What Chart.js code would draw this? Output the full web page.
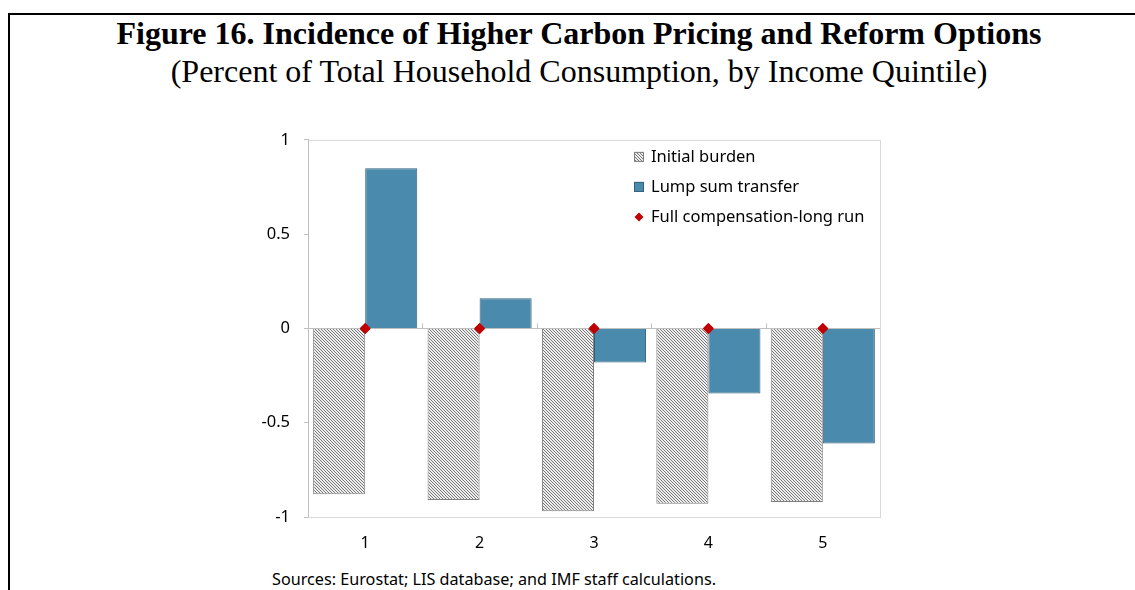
<!DOCTYPE html>
<html>
<head>
<meta charset="utf-8">
<script src="https://cdn.jsdelivr.net/npm/chart.js@4"></script>
<style>
  body { margin: 0; background: #fff; }
  #wrap { position: relative; width: 1135px; height: 590px; overflow: hidden; }
  #frame { position: absolute; left: 8px; top: 13px; width: 1140px; height: 600px;
           border-top: 2px solid #000; border-left: 2px solid #000; }
  .title { position: absolute; left: 0; width: 1158px; text-align: center; white-space: nowrap;
           font-family: "Liberation Serif", "Times New Roman", serif; color: #000; }
  #t1 { top: 15px; font-size: 32px; font-weight: bold; }
  #t2 { top: 53px; font-size: 32px; }
  #source { position: absolute; left: 272px; top: 568px; font-family: "Noto Sans", sans-serif;
            font-size: 16.2px; color: #000; }
  #chartBox { position: absolute; left: 0; top: 116px; width: 1135px; height: 444px; }
</style>
</head>
<body>
<div id="wrap">
  <div id="frame"></div>
  <div class="title" id="t1">Figure 16. Incidence of Higher Carbon Pricing and Reform Options</div>
  <div class="title" id="t2">(Percent of Total Household Consumption, by Income Quintile)</div>
  <div id="chartBox"><canvas id="chart"></canvas></div>
  <div id="source">Sources: Eurostat; LIS database; and IMF staff calculations.</div>
</div>
<script>
const quintiles = ['1', '2', '3', '4', '5'];
const initialBurden = [-0.88, -0.91, -0.97, -0.93, -0.92];
const lumpSumTransfer = [0.85, 0.16, -0.18, -0.345, -0.61];
const fullCompensation = [0, 0, 0, 0, 0];
const yTicks = [-1, -0.5, 0, 0.5, 1];

// Motif hachuré pour "Initial burden"
function makeHatch() {
  const c = document.createElement('canvas');
  c.width = 3; c.height = 3;
  const g = c.getContext('2d');
  g.fillStyle = '#ededed';
  g.fillRect(0, 0, 3, 3);
  g.fillStyle = '#7a7a7a';
  for (let i = 0; i < 3; i++) g.fillRect(i, i, 1, 1);
  return g.createPattern(c, 'repeat');
}
const hatch = makeHatch();
const blue = '#4a8bad';
const red = '#c00000';

// Cadre, axe du zéro et petites graduations
const framePlugin = {
  id: 'framePlugin',
  beforeDatasetsDraw(chart) {
    const { ctx, chartArea: a } = chart;
    ctx.save();
    ctx.strokeStyle = '#d9d9d9';
    ctx.lineWidth = 1;
    ctx.strokeRect(a.left + 0.5, a.top + 0.5, a.right - a.left, a.bottom - a.top);
    ctx.restore();
  },
  afterDatasetsDraw(chart) {
    const { ctx, chartArea: a, scales: { y } } = chart;
    const y0 = Math.round(y.getPixelForValue(0)) + 0.5;
    ctx.save();
    ctx.strokeStyle = '#bfbfbf';
    ctx.lineWidth = 1;
    ctx.beginPath();
    ctx.moveTo(a.left, y0);
    ctx.lineTo(a.right, y0);
    const step = (a.right - a.left) / quintiles.length;
    for (let i = 1; i < quintiles.length; i++) {
      const px = Math.round(a.left + i * step) + 0.5;
      ctx.moveTo(px, y0);
      ctx.lineTo(px, y0 - 5);
    }
    ctx.moveTo(a.left + 0.5, a.top);
    ctx.lineTo(a.left + 0.5, a.bottom);
    ctx.stroke();
    ctx.restore();
    // redessiner les losanges par-dessus l'axe
    const meta = chart.getDatasetMeta(2);
    meta.data.forEach(p => p.draw(ctx, a));
  }
};

// Légende dessinée dans la zone du graphique
const legendPlugin = {
  id: 'legendPlugin',
  afterDraw(chart) {
    const { ctx, chartArea: a } = chart;
    const lx = a.right - 246;
    ctx.save();
    ctx.font = '16.5px "Noto Sans", sans-serif';
    ctx.textBaseline = 'middle';
    chart.data.datasets.forEach((ds, i) => {
      const cy = a.top + 17 + i * 30;
      if (ds.type === 'line') {
        ctx.fillStyle = red;
        ctx.beginPath();
        ctx.moveTo(lx + 5, cy - 4.5);
        ctx.lineTo(lx + 9.5, cy);
        ctx.lineTo(lx + 5, cy + 4.5);
        ctx.lineTo(lx + 0.5, cy);
        ctx.closePath();
        ctx.fill();
      } else {
        ctx.fillStyle = ds.backgroundColor;
        ctx.fillRect(lx, cy - 5, 10, 10);
        ctx.strokeStyle = ds.borderColor;
        ctx.lineWidth = 1;
        ctx.strokeRect(lx + 0.5, cy - 4.5, 9, 9);
      }
      ctx.fillStyle = '#000';
      ctx.fillText(ds.label, lx + 17, cy);
    });
    ctx.restore();
  }
};

new Chart(document.getElementById('chart').getContext('2d'), {
  data: {
    labels: quintiles,
    datasets: [
      {
        type: 'bar',
        label: 'Initial burden',
        data: initialBurden,
        backgroundColor: hatch,
        borderColor: '#808080',
        borderWidth: 1,
        order: 1
      },
      {
        type: 'bar',
        label: 'Lump sum transfer',
        data: lumpSumTransfer,
        backgroundColor: blue,
        borderColor: '#33617a',
        borderWidth: 1,
        order: 1
      },
      {
        type: 'line',
        label: 'Full compensation-long run',
        data: fullCompensation,
        showLine: false,
        pointStyle: 'rectRot',
        pointRadius: 5.5,
        backgroundColor: red,
        borderColor: red,
        borderWidth: 0,
        order: 0,
        clip: false
      }
    ]
  },
  options: {
    responsive: true,
    maintainAspectRatio: false,
    animation: false,
    layout: { padding: { left: 248, right: 255, top: 16, bottom: 0 } },
    datasets: { bar: { barPercentage: 1, categoryPercentage: 0.91 } },
    plugins: { legend: { display: false }, tooltip: { enabled: false } },
    scales: {
      x: {
        grid: { display: false },
        border: { display: false },
        ticks: { color: '#000', font: { family: '"Noto Sans", sans-serif', size: 16 }, padding: 9 },
        afterFit(scale) { scale.height = 43; }
      },
      y: {
        min: -1,
        max: 1,
        afterBuildTicks(scale) { scale.ticks = yTicks.map(v => ({ value: v })); },
        grid: { drawOnChartArea: false, drawTicks: true, tickLength: 4, color: '#bfbfbf' },
        border: { display: true, color: '#bfbfbf' },
        ticks: {
          color: '#000',
          font: { family: '"Noto Sans", sans-serif', size: 16.5 },
          padding: 14,
          callback: v => String(v)
        },
        afterFit(scale) { scale.width = 60; }
      }
    }
  },
  plugins: [framePlugin, legendPlugin]
});
</script>
</body>
</html>
